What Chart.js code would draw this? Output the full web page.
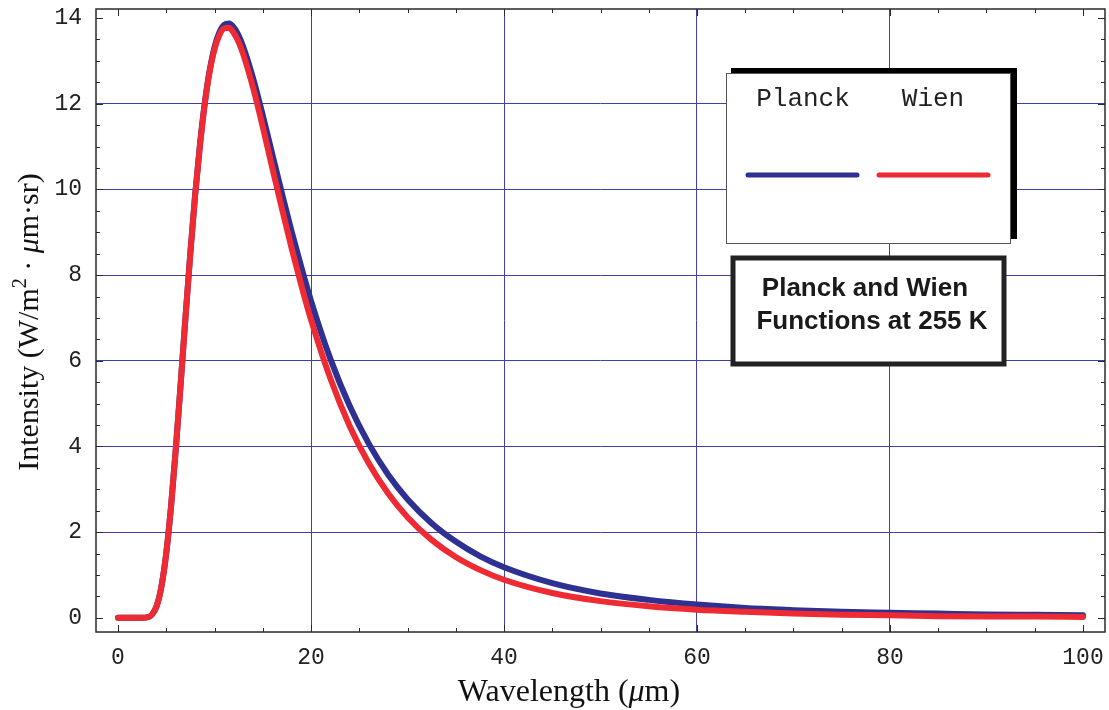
<!DOCTYPE html>
<html>
<head>
<meta charset="utf-8">
<script src="https://cdn.jsdelivr.net/npm/chart.js@4.4.1/dist/chart.umd.min.js"></script>
<style>
  html, body { margin: 0; padding: 0; background: #ffffff; }
  #wrap { position: relative; width: 1109px; height: 710px; }
</style>
</head>
<body>
<div id="wrap"><canvas id="c" width="1109" height="710"></canvas></div>
<script>
// ---- Data ----
const wavelengths = [0,1,2,2.5,3,3.5,4,4.5,5,5.5,6,6.5,7,7.5,8,8.5,9,9.5,10,10.5,11,11.5,12,12.5,13,14,15,16,17,18,19,20,22,24,26,28,30,32.5,35,37.5,40,45,50,55,60,65,70,75,80,85,90,95,100];
const planck = [0,0,0,0.001,0.01,0.07,0.27,0.73,1.51,2.61,3.97,5.48,7.04,8.53,9.89,11.06,12.03,12.78,13.32,13.66,13.84,13.87,13.78,13.59,13.31,12.59,11.73,10.81,9.90,9.01,8.18,7.40,6.05,4.95,4.06,3.34,2.77,2.21,1.78,1.44,1.18,0.81,0.57,0.42,0.31,0.23,0.18,0.14,0.12,0.10,0.08,0.07,0.06];
const wien = [0,0,0,0.001,0.01,0.07,0.27,0.73,1.51,2.61,3.97,5.48,7.03,8.52,9.88,11.04,12.01,12.75,13.27,13.60,13.76,13.77,13.65,13.44,13.14,12.37,11.46,10.49,9.54,8.62,7.76,6.96,5.59,4.48,3.60,2.90,2.35,1.82,1.42,1.12,0.89,0.58,0.39,0.27,0.19,0.14,0.10,0.07,0.06,0.04,0.03,0.03,0.02];
const xTicks = [0,20,40,60,80,100];
const yTicks = [0,2,4,6,8,10,12,14];
const xMinorTicks = [0,5,10,15,20,25,30,35,40,45,50,55,60,65,70,75,80,85,90,95,100];
const yMinorTicks = [0,0.5,1,1.5,2,2.5,3,3.5,4,4.5,5,5.5,6,6.5,7,7.5,8,8.5,9,9.5,10,10.5,11,11.5,12,12.5,13,13.5,14];
const seriesNames = ['Planck', 'Wien'];
const titleLines = ['Planck and Wien', 'Functions at 255 K'];

const BLUE = '#2E3192';
const RED = '#EE2A33';
const GRID = 'rgb(62,66,168)';
const FRAME = '#2a2a2a';

const toPts = arr => wavelengths.map((w, i) => ({ x: w, y: arr[i] }));

// ---- Custom drawing: frame, inward ticks, axis titles, legend & title boxes ----
const decor = {
  id: 'decor',
  afterDatasetsDraw(chart) {
    const { ctx, chartArea: a, scales: { x, y } } = chart;
    ctx.save();
    ctx.strokeStyle = FRAME;
    ctx.lineWidth = 1;
    xMinorTicks.forEach(v => {
      const px = Math.round(x.getPixelForValue(v)) + 0.5;
      const len = (v % 20 === 0) ? 7 : 4;
      ctx.beginPath();
      ctx.moveTo(px, a.bottom); ctx.lineTo(px, a.bottom - len);
      ctx.moveTo(px, a.top); ctx.lineTo(px, a.top + len);
      ctx.stroke();
    });
    yMinorTicks.forEach(v => {
      const py = Math.round(y.getPixelForValue(v)) + 0.5;
      const len = (v % 2 === 0) ? 7 : 4;
      ctx.beginPath();
      ctx.moveTo(a.left, py); ctx.lineTo(a.left + len, py);
      ctx.moveTo(a.right, py); ctx.lineTo(a.right - len, py);
      ctx.stroke();
    });
    ctx.lineWidth = 1.5;
    ctx.strokeRect(a.left, a.top, a.right - a.left, a.bottom - a.top);
    ctx.restore();
  },
  afterDraw(chart) {
    const { ctx } = chart;
    ctx.save();
    ctx.fillStyle = '#111';
    ctx.textBaseline = 'alphabetic';
    const serif = '"Liberation Serif", "DejaVu Serif", serif';
    const segX = [
      { t: 'Wavelength (', f: '32px ' + serif },
      { t: 'μ', f: 'italic 32px ' + serif },
      { t: 'm)', f: '32px ' + serif }
    ];
    drawSegments(ctx, segX, 569, 701);
    ctx.save();
    ctx.translate(38, 322);
    ctx.rotate(-Math.PI / 2);
    const segY = [
      { t: 'Intensity (W/m', f: '30px ' + serif },
      { t: '2', f: '20px ' + serif, dy: -12 },
      { t: ' · ', f: '30px ' + serif },
      { t: 'μ', f: 'italic 30px ' + serif },
      { t: 'm·sr)', f: '30px ' + serif }
    ];
    drawSegments(ctx, segY, 0, 0);
    ctx.restore();

    // legend box: shadow then white box
    ctx.fillStyle = '#000';
    ctx.fillRect(731, 68, 286, 171);
    ctx.fillStyle = '#fff';
    ctx.fillRect(726, 73, 285, 171);
    ctx.strokeStyle = '#555';
    ctx.lineWidth = 1;
    ctx.strokeRect(726.5, 73.5, 284, 170);
    ctx.fillStyle = '#222';
    ctx.font = '26px "Liberation Mono", "DejaVu Sans Mono", monospace';
    ctx.textAlign = 'center';
    ctx.fillText(seriesNames[0], 803, 106);
    ctx.fillText(seriesNames[1], 933, 106);
    ctx.lineCap = 'round';
    ctx.lineWidth = 5;
    ctx.strokeStyle = BLUE;
    ctx.beginPath(); ctx.moveTo(748, 175); ctx.lineTo(857, 175); ctx.stroke();
    ctx.strokeStyle = RED;
    ctx.beginPath(); ctx.moveTo(879, 175); ctx.lineTo(988, 175); ctx.stroke();

    // title box
    ctx.fillStyle = '#fff';
    ctx.fillRect(733, 258, 271, 106);
    ctx.strokeStyle = '#222';
    ctx.lineWidth = 5;
    ctx.strokeRect(733, 258, 271, 106);
    ctx.fillStyle = '#1a1a1a';
    ctx.font = 'bold 26px "Liberation Sans", Arimo, sans-serif';
    ctx.fillText(titleLines[0], 865, 296);
    ctx.fillText(titleLines[1], 872, 329);
    ctx.restore();
  }
};

function drawSegments(ctx, segs, cx, baseY) {
  let total = 0;
  segs.forEach(s => { ctx.font = s.f; s.w = ctx.measureText(s.t).width; total += s.w; });
  let xx = cx - total / 2;
  ctx.textAlign = 'left';
  segs.forEach(s => {
    ctx.font = s.f;
    ctx.fillText(s.t, xx, baseY + (s.dy || 0));
    xx += s.w;
  });
}

const tickFont = { family: '"Liberation Mono", "DejaVu Sans Mono", monospace', size: 23 };

new Chart(document.getElementById('c'), {
  type: 'line',
  data: {
    datasets: [
      {
        label: seriesNames[1], data: toPts(wien), borderColor: RED, borderWidth: 6,
        pointRadius: 0, cubicInterpolationMode: 'monotone', borderCapStyle: 'round', borderJoinStyle: 'round', fill: false
      },
      {
        label: seriesNames[0], data: toPts(planck), borderColor: BLUE, borderWidth: 6,
        pointRadius: 0, cubicInterpolationMode: 'monotone', borderCapStyle: 'round', borderJoinStyle: 'round', fill: false
      }
    ]
  },
  options: {
    responsive: false,
    animation: false,
    layout: { padding: { top: 9, right: 4, left: 0, bottom: 0 } },
    plugins: { legend: { display: false }, tooltip: { enabled: false } },
    scales: {
      x: {
        type: 'linear', min: -2.28, max: 102.28,
        afterBuildTicks: s => { s.ticks = xTicks.map(v => ({ value: v })); },
        afterFit: s => { s.height = 78; s.paddingLeft = 0; s.paddingRight = 0; },
        border: { display: false },
        grid: {
          drawTicks: false, lineWidth: 1,
          color: c => (c.tick && (c.tick.value === 0 || c.tick.value === 100)) ? 'rgba(0,0,0,0)' : GRID
        },
        ticks: { font: tickFont, color: '#222', padding: 12, maxRotation: 0, callback: v => String(v) }
      },
      y: {
        type: 'linear', min: -0.33, max: 14.21,
        afterBuildTicks: s => { s.ticks = yTicks.map(v => ({ value: v })); },
        afterFit: s => { s.width = 96; s.paddingTop = 0; s.paddingBottom = 0; },
        border: { display: false },
        grid: {
          drawTicks: false, lineWidth: 1,
          color: c => (c.tick && (c.tick.value === 0 || c.tick.value === 14)) ? 'rgba(0,0,0,0)' : GRID
        },
        ticks: { font: tickFont, color: '#222', padding: 14, callback: v => String(v) }
      }
    }
  },
  plugins: [decor]
});
</script>
</body>
</html>
